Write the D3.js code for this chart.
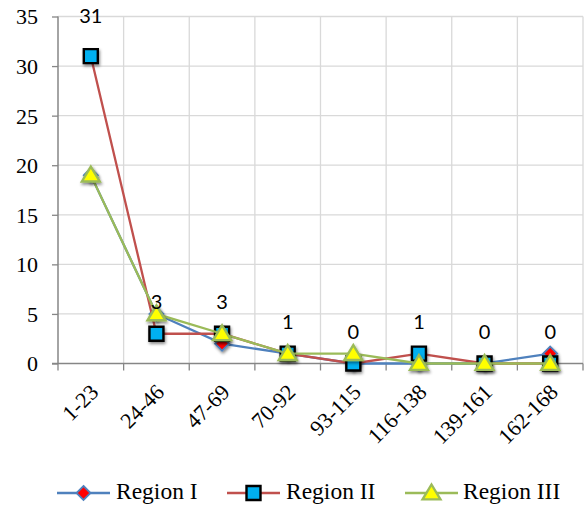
<!DOCTYPE html>
<html><head><meta charset="utf-8">
<script src="https://cdn.jsdelivr.net/npm/d3@7"></script>
<style>body{margin:0;background:#fff}svg{display:block}</style>
</head><body>
<script>
const categories = ["1-23","24-46","47-69","70-92","93-115","116-138","139-161","162-168"];
const region1 = [19,5,2,1,0,0,0,1];
const region2 = [31,3,3,1,0,1,0,0];
const region3 = [19,5,3,1,1,0,0,0];
const dataLabels = [31,3,3,1,0,1,0,0];
const yTicks = [0,5,10,15,20,25,30,35];
const seriesNames = ["Region I","Region II","Region III"];

(function(){
const W=584,H=507;
const pL=58,pR=583,pT=16.5,pB=363.5;
const serif="'Liberation Serif','Times New Roman',serif";
const svg=d3.select("body").append("svg").attr("width",W).attr("height",H);
const defs=svg.append("defs");
const f=defs.append("filter").attr("id","sh").attr("x","-50%").attr("y","-50%").attr("width","200%").attr("height","200%");
f.append("feDropShadow").attr("dx",1).attr("dy",2).attr("stdDeviation",1.5).attr("flood-color","#000").attr("flood-opacity",0.45);

const x=d3.scaleBand().domain(categories).range([pL,pR]);
const y=d3.scaleLinear().domain([0,35]).range([pB,pT]);

const g=svg.append("g");
g.selectAll(".hg").data(yTicks.filter(d=>d>0)).join("line")
 .attr("x1",pL).attr("x2",pR).attr("y1",d=>y(d)).attr("y2",d=>y(d))
 .attr("stroke","#d9d9d9").attr("stroke-width",1.3);
g.selectAll(".vg").data(categories).join("line")
 .attr("x1",d=>x(d)+x.bandwidth()).attr("x2",d=>x(d)+x.bandwidth()).attr("y1",pT).attr("y2",pB)
 .attr("stroke","#d9d9d9").attr("stroke-width",1.3);

const ya=svg.append("g").attr("transform",`translate(${pL},0)`)
 .call(d3.axisLeft(y).tickValues(yTicks).tickSize(6).tickPadding(14));
ya.attr("font-family",null).attr("font-size",null);
ya.select(".domain").attr("stroke","#868686").attr("stroke-width",1.5).attr("d",`M0,${pT}V${pB}`);
ya.selectAll(".tick line").attr("stroke","#868686").attr("stroke-width",1.3);
ya.selectAll("text").style("font-family",serif).style("font-size","22px").attr("fill","#000").attr("dy","0.34em");

const xa=svg.append("g").attr("transform",`translate(0,${pB})`);
xa.append("line").attr("x1",pL-6).attr("x2",pR).attr("y1",0).attr("y2",0).attr("stroke","#868686").attr("stroke-width",1.5);
const bounds=[pL].concat(categories.map(d=>x(d)+x.bandwidth()));
xa.selectAll(".xt").data(bounds).join("line")
 .attr("x1",d=>d).attr("x2",d=>d).attr("y1",0).attr("y2",7).attr("stroke","#868686").attr("stroke-width",1.3);
xa.selectAll(".xl").data(categories).join("text")
 .attr("transform",d=>`translate(${x(d)+x.bandwidth()/2+9},${30}) rotate(-45)`)
 .attr("text-anchor","end").style("font-family",serif).style("font-size","22px").attr("fill","#000")
 .text(d=>d);

const cx=i=>x(categories[i])+x.bandwidth()/2;
const line=d3.line().x((d,i)=>cx(i)).y(d=>y(d));

const diamond=s=>`M0,${-s}L${s},0L0,${s}L${-s},0Z`;
const square=s=>`M${-s},${-s}H${s}V${s}H${-s}Z`;
const tri=s=>`M0,${-s}L${s*1.05},${s*0.75}L${-s*1.05},${s*0.75}Z`;

const series=[
 {vals:region1,color:"#4F81BD",path:diamond(7),fill:"#FF0000",stroke:"#4F81BD",sw:1.8},
 {vals:region2,color:"#C0504D",path:square(7),fill:"#00B0F0",stroke:"#000",sw:2.4},
 {vals:region3,color:"#9BBB59",path:tri(8.5),fill:"#FFFF00",stroke:"#9BBB59",sw:2.4}
];
series.forEach(s=>{
 svg.append("path").datum(s.vals).attr("d",line).attr("fill","none").attr("stroke",s.color).attr("stroke-width",2.3);
 svg.append("g").selectAll("path").data(s.vals).join("path")
  .attr("transform",(d,i)=>`translate(${cx(i)},${y(d)})`).attr("d",s.path)
  .attr("fill",s.fill).attr("stroke",s.stroke).attr("stroke-width",s.sw).attr("filter","url(#sh)");
});

svg.append("g").selectAll("text").data(dataLabels).join("text")
 .attr("x",(d,i)=>cx(i)).attr("y",(d,i)=>y(region2[i])-(i===0?33:25))
 .attr("text-anchor","middle").style("font-family","Lato,'Open Sans',sans-serif").style("font-size","20px").attr("fill","#000")
 .text(d=>d);

const leg=[{x:57,tx:116},{x:227,tx:286},{x:405,tx:463}];
const ly=493;
series.forEach((s,i)=>{
 const L=leg[i];
 svg.append("line").attr("x1",L.x).attr("x2",L.x+53).attr("y1",ly).attr("y2",ly).attr("stroke",s.color).attr("stroke-width",2.3);
 svg.append("path").attr("transform",`translate(${L.x+26.5},${ly})`).attr("d",s.path)
  .attr("fill",s.fill).attr("stroke",s.stroke).attr("stroke-width",s.sw);
 svg.append("text").attr("x",L.tx).attr("y",ly+6).style("font-family",serif).style("font-size","23.5px").attr("fill","#000").text(seriesNames[i]);
});
})();
</script>
</body></html>
